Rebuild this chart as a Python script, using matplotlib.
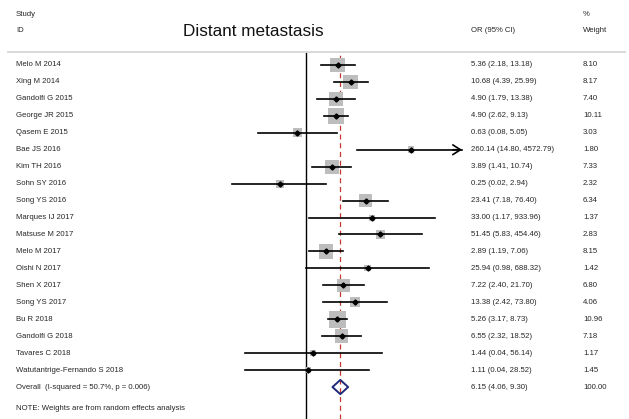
import matplotlib
matplotlib.use("Agg")
import matplotlib.pyplot as plt
import matplotlib.transforms as mtransforms
import numpy as np
from matplotlib.patches import Polygon

plt.rcParams['font.family'] = ['Liberation Sans', 'DejaVu Sans']

studies = ["Melo M 2014", "Xing M 2014", "Gandolfi G 2015", "George JR 2015",
           "Qasem E 2015", "Bae JS 2016", "Kim TH 2016", "Sohn SY 2016",
           "Song YS 2016", "Marques IJ 2017", "Matsuse M 2017", "Melo M 2017",
           "Oishi N 2017", "Shen X 2017", "Song YS 2017", "Bu R 2018",
           "Gandolfi G 2018", "Tavares C 2018", "Watutantrige-Fernando S 2018"]
odds = [5.36, 10.68, 4.90, 4.90, 0.63, 260.14, 3.89, 0.25, 23.41, 33.00,
        51.45, 2.89, 25.94, 7.22, 13.38, 5.26, 6.55, 1.44, 1.11]
lower = [2.18, 4.39, 1.79, 2.62, 0.08, 14.80, 1.41, 0.02, 7.18, 1.17,
         5.83, 1.19, 0.98, 2.40, 2.42, 3.17, 2.32, 0.04, 0.04]
upper = [13.18, 25.99, 13.38, 9.13, 5.05, 4572.79, 10.74, 2.94, 76.40, 933.96,
         454.46, 7.06, 688.32, 21.70, 73.80, 8.73, 18.52, 56.14, 28.52]
weights = [8.10, 8.17, 7.40, 10.11, 3.03, 1.80, 7.33, 2.32, 6.34, 1.37,
           2.83, 8.15, 1.42, 6.80, 4.06, 10.96, 7.18, 1.17, 1.45]
overall_label = "Overall  (I-squared = 50.7%, p = 0.006)"
overall_or = 6.15
overall_lo = 4.06
overall_hi = 9.30
overall_w = 100.00
title = "Distant metastasis"
note = "NOTE: Weights are from random effects analysis"

W, H = 629, 419
fig = plt.figure(figsize=(W / 100, H / 100), dpi=100)
fig.patch.set_facecolor('white')

# layout in pixels
null_px = 306.0
px_per_dec = 43.5
ax_left, ax_right = 150.0, 470.0
top_px, bottom_px = 52.0, 419.0
row0_px, row_step = 65.0, 16.95

ax = fig.add_axes([ax_left / W, 0, (ax_right - ax_left) / W, (H - top_px) / H])
ax.set_xscale('log')
ax.set_xlim(10 ** ((ax_left - null_px) / px_per_dec), 10 ** ((ax_right - null_px) / px_per_dec))
ax.set_ylim((bottom_px - row0_px) / row_step, (top_px - row0_px) / row_step)
ax.axis('off')

xmax_clip = 10 ** ((462 - null_px) / px_per_dec)

n = len(studies)
rows = np.arange(n)
txtc = '#262626'
fs = 5.6

# null line and overall dashed line
ax.axvline(1.0, color='black', lw=1.0, zorder=1)
ax.axvline(overall_or, color='#c0392b', lw=0.9, ls=(0, (4, 3)), zorder=1)

for i in range(n):
    side = 12.2 * np.sqrt(weights[i] / 10.96)
    ax.scatter([odds[i]], [rows[i]], marker='s', s=side ** 2, color='#bdbdbd',
               edgecolors='none', zorder=2)
    hi = upper[i]
    if hi > xmax_clip:
        ax.plot([lower[i], xmax_clip], [rows[i], rows[i]], color='black', lw=1.2, zorder=3)
        ax.annotate('', xy=(xmax_clip, rows[i]), xytext=(xmax_clip / 1.6, rows[i]),
                    arrowprops=dict(arrowstyle='->, head_length=0.55, head_width=0.35',
                                    color='black', lw=1.2, mutation_scale=10,
                                    shrinkA=0, shrinkB=0), zorder=3)
    else:
        ax.plot([lower[i], hi], [rows[i], rows[i]], color='black', lw=1.2, zorder=3)
    ax.plot([odds[i]], [rows[i]], marker='D', ms=2.6, color='black', zorder=4)

# overall diamond
ov_row = n
dh = 0.42
diamond = Polygon([(overall_lo, ov_row), (overall_or, ov_row - dh),
                   (overall_hi, ov_row), (overall_or, ov_row + dh)],
                  closed=True, fill=False, edgecolor='#1f2a7a', lw=1.4,
                  joinstyle='round', zorder=5)
ax.add_patch(diamond)

# text columns
tr = mtransforms.blended_transform_factory(fig.transFigure, ax.transData)
x_id = 16 / W
x_or = 471 / W
x_w = 583 / W
for i in range(n):
    fig.text(x_id, rows[i], studies[i], transform=tr, fontsize=fs, color=txtc,
             ha='left', va='center')
    fig.text(x_or, rows[i], f"{odds[i]:.2f} ({lower[i]:.2f}, {upper[i]:.2f})",
             transform=tr, fontsize=fs, color=txtc, ha='left', va='center')
    fig.text(x_w, rows[i], f"{weights[i]:.2f}", transform=tr, fontsize=fs,
             color=txtc, ha='left', va='center')
fig.text(x_id, ov_row, overall_label, transform=tr, fontsize=fs, color=txtc,
         ha='left', va='center')
fig.text(x_or, ov_row, f"{overall_or:.2f} ({overall_lo:.2f}, {overall_hi:.2f})",
         transform=tr, fontsize=fs, color=txtc, ha='left', va='center')
fig.text(x_w, ov_row, f"{overall_w:.2f}", transform=tr, fontsize=fs, color=txtc,
         ha='left', va='center')
fig.text(x_id, 1 - 408 / H, note, fontsize=fs, color=txtc, ha='left', va='center')

# header
fig.text(x_id, 1 - 14 / H, "Study", fontsize=fs, color=txtc, ha='left', va='center')
fig.text(x_id, 1 - 31 / H, "ID", fontsize=fs, color=txtc, ha='left', va='center')
fig.text(x_or, 1 - 31 / H, "OR (95% CI)", fontsize=fs, color=txtc, ha='left', va='center')
fig.text(x_w, 1 - 14 / H, "%", fontsize=fs, color=txtc, ha='left', va='center')
fig.text(x_w, 1 - 31 / H, "Weight", fontsize=fs, color=txtc, ha='left', va='center')
fig.text(253 / W, 1 - 31 / H, title, fontsize=12.3, color='#111111', ha='center',
         va='center')

# header separator line
fig.add_artist(plt.Line2D([8 / W, 625 / W], [1 - top_px / H, 1 - top_px / H],
                          transform=fig.transFigure, color='#d9d9d9', lw=1.4))

fig.savefig('out.png', dpi=100)
